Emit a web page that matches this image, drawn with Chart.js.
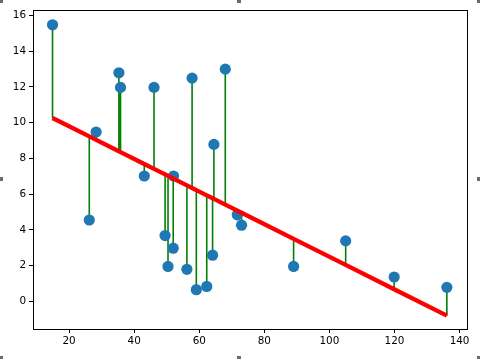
<!DOCTYPE html>
<html>
<head>
<meta charset="utf-8">
<script src="https://cdn.jsdelivr.net/npm/chart.js@4/dist/chart.umd.min.js"></script>
<style>
  html, body { margin: 0; padding: 0; background: #fff; }
  #wrap { position: relative; width: 480px; height: 359px; }
  .h { position: absolute; width: 4px; height: 4px; background: #6b6b6b; }
</style>
</head>
<body>
<div id="wrap">
  <canvas id="c" width="480" height="359"></canvas>
  <div class="h" style="left:-1px;top:-1px"></div>
  <div class="h" style="left:237px;top:-1px"></div>
  <div class="h" style="left:477px;top:-1px"></div>
  <div class="h" style="left:-1px;top:177px"></div>
  <div class="h" style="left:477px;top:177px"></div>
  <div class="h" style="left:-1px;top:356px"></div>
  <div class="h" style="left:237px;top:356px"></div>
  <div class="h" style="left:477px;top:356px"></div>
</div>
<script>
// ---- data ----
const xValues = [14.9, 26.2, 28.3, 35.3, 35.8, 43.1, 46.1, 49.5, 50.4, 52.1, 52.0, 56.2, 57.8, 59.1, 62.3, 64.1, 64.5, 68.0, 71.7, 73.0, 89.0, 105.0, 119.9, 136.1];
const yValues = [15.47, 4.55, 9.47, 12.79, 11.97, 7.01, 11.97, 3.68, 1.95, 7.01, 2.97, 1.79, 12.49, 0.65, 0.83, 2.58, 8.78, 12.99, 4.84, 4.26, 1.95, 3.38, 1.36, 0.78];
const xTicks = [20, 40, 60, 80, 100, 120, 140];
const yTicks = [0, 2, 4, 6, 8, 10, 12, 14, 16];
const xRange = [8.9, 142.2];
const yRange = [-1.55, 16.3];

// least-squares fit of the points (the red regression line)
const n = xValues.length;
const mx = xValues.reduce((a, b) => a + b, 0) / n;
const my = yValues.reduce((a, b) => a + b, 0) / n;
let sxy = 0, sxx = 0;
for (let i = 0; i < n; i++) { sxy += (xValues[i] - mx) * (yValues[i] - my); sxx += (xValues[i] - mx) ** 2; }
const slope = sxy / sxx;
const intercept = my - slope * mx;
const fitted = xValues.map(x => intercept + slope * x);

const pts = xValues.map((x, i) => ({ x, y: yValues[i] }));
const resid = [];
xValues.forEach((x, i) => {
  resid.push({ x, y: yValues[i] });
  resid.push({ x, y: fitted[i] });
  resid.push({ x, y: null });
});
const fitLine = xValues.map((x, i) => ({ x, y: fitted[i] })).sort((a, b) => a.x - b.x);

const frame = {
  id: 'frame',
  afterDatasetsDraw(chart) {
    const { ctx, chartArea: a } = chart;
    ctx.save();
    ctx.strokeStyle = '#000';
    ctx.lineWidth = 1;
    ctx.strokeRect(Math.round(a.left) + 0.5, Math.round(a.top) + 0.5, Math.round(a.right - a.left), Math.round(a.bottom - a.top));
    ctx.restore();
  }
};

const font = { family: 'DejaVu Sans', size: 10.4 };

new Chart(document.getElementById('c'), {
  type: 'scatter',
  data: {
    datasets: [
      { data: resid, showLine: true, spanGaps: false, borderColor: '#008000', borderWidth: 1.6, pointRadius: 0, order: 3 },
      { data: pts, backgroundColor: '#1f77b4', borderWidth: 0, pointRadius: 5.6, pointHoverRadius: 5.6, order: 2 },
      { data: fitLine, showLine: true, borderColor: '#ff0000', borderWidth: 4.3, pointRadius: 0, order: 1, borderCapStyle: 'butt' }
    ]
  },
  options: {
    responsive: false,
    animation: false,
    events: [],
    layout: { padding: { left: 0, top: 10, right: 13.3, bottom: 0 } },
    plugins: { legend: { display: false }, tooltip: { enabled: false } },
    scales: {
      x: {
        type: 'linear', min: xRange[0], max: xRange[1],
        afterBuildTicks: s => { s.ticks = xTicks.map(v => ({ value: v })); },
        afterFit: s => { s.height = 30; },
        grid: { display: true, drawOnChartArea: false, drawTicks: true, tickLength: 4, color: '#000' },
        border: { display: true, color: '#000', width: 1 },
        ticks: { color: '#000', font, padding: 2, maxRotation: 0 }
      },
      y: {
        type: 'linear', min: yRange[0], max: yRange[1],
        afterBuildTicks: s => { s.ticks = yTicks.map(v => ({ value: v })); },
        afterFit: s => { s.width = 33; },
        grid: { display: true, drawOnChartArea: false, drawTicks: true, tickLength: 4, color: '#000' },
        border: { display: true, color: '#000', width: 1 },
        ticks: { color: '#000', font, padding: 3 }
      }
    }
  },
  plugins: [frame]
});
</script>
</body>
</html>
